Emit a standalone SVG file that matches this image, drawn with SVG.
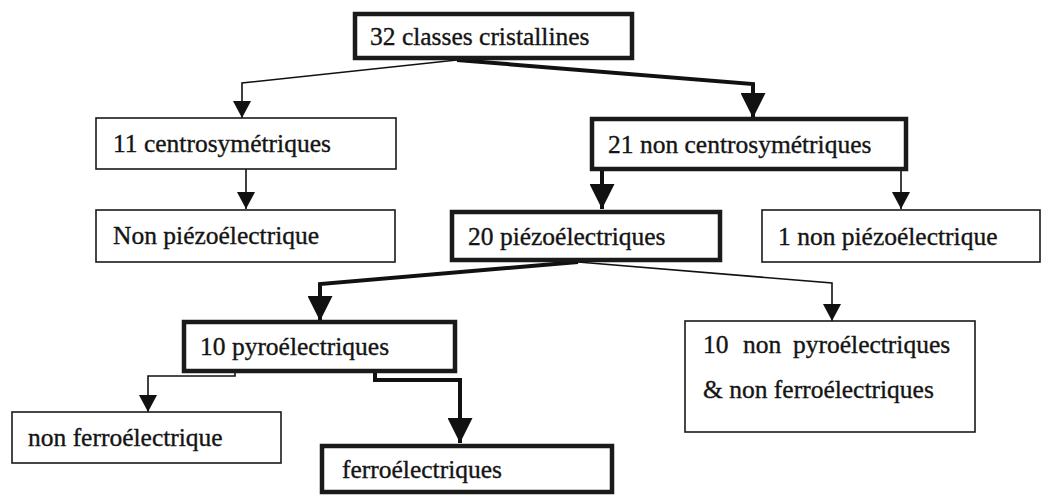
<svg xmlns="http://www.w3.org/2000/svg" width="1042" height="495" viewBox="0 0 1042 495">
<style>
.bg{fill:#ffffff}
.box{fill:#ffffff;stroke:#1a1a1a}
.thin{stroke-width:1.6}
.thick{stroke-width:4.5}
.lbl{font-family:'Liberation Serif','Times New Roman',serif;font-size:25.5px;fill:#141414;stroke:#141414;stroke-width:0.35}
.c{fill:none;stroke:#111;stroke-linejoin:miter}
.cthin{stroke-width:1.6}
.cthick{stroke-width:4}
</style>
<defs>
<marker id="ah-thin" markerUnits="userSpaceOnUse" markerWidth="17" markerHeight="18" refX="17" refY="9" orient="auto" viewBox="0 0 17 18">
<path d="M0,0 L17,9 L0,18 Z" fill="#111"/>
</marker>
<marker id="ah-thick" markerUnits="userSpaceOnUse" markerWidth="25" markerHeight="25" refX="25" refY="12.5" orient="auto" viewBox="0 0 25 25">
<path d="M0,0 L25,12.5 L0,25 Z" fill="#111"/>
</marker>
</defs>
<rect class="bg" x="0" y="0" width="1042" height="495"/>

<g id="connectors">
<polyline class="c cthin" points="457,60 242,83 242,118" marker-end="url(#ah-thin)"/>
<polyline class="c cthick" points="457,60 753,84 753,118" marker-end="url(#ah-thick)"/>
<polyline class="c cthin" points="246,169 246,209" marker-end="url(#ah-thin)"/>
<polyline class="c cthick" points="602,170 602,209" marker-end="url(#ah-thick)"/>
<polyline class="c cthin" points="901,170 901,209" marker-end="url(#ah-thin)"/>
<polyline class="c cthick" points="578,262 320,284 320,321" marker-end="url(#ah-thick)"/>
<polyline class="c cthin" points="578,262 832,283 832,321" marker-end="url(#ah-thin)"/>
<polyline class="c cthin" points="235,372 235,376 148,376 148,412" marker-end="url(#ah-thin)"/>
<polyline class="c cthick" points="375,372 375,380 460,380 460,443" marker-end="url(#ah-thick)"/>
</g>

<g id="n-32">
<rect class="box thick" x="355" y="14" width="277" height="44"/>
<text class="lbl" x="370" y="45">32 classes cristallines</text>
</g>
<g id="n-11">
<rect class="box thin" x="96" y="118" width="300" height="51"/>
<text class="lbl" x="113" y="152">11 centrosymétriques</text>
</g>
<g id="n-21">
<rect class="box thick" x="592" y="119" width="314" height="50"/>
<text class="lbl" x="608" y="153">21 non centrosymétriques</text>
</g>
<g id="n-nonpiezo">
<rect class="box thin" x="96" y="210" width="299" height="52"/>
<text class="lbl" x="113" y="244">Non piézoélectrique</text>
</g>
<g id="n-20">
<rect class="box thick" x="452" y="212" width="268" height="48"/>
<text class="lbl" x="468" y="245">20 piézoélectriques</text>
</g>
<g id="n-1nonpiezo">
<rect class="box thin" x="762" y="210" width="278" height="52"/>
<text class="lbl" x="778" y="245">1 non piézoélectrique</text>
</g>
<g id="n-10pyro">
<rect class="box thick" x="184" y="322" width="271" height="49"/>
<text class="lbl" x="200" y="355">10 pyroélectriques</text>
</g>
<g id="n-10nonpyro">
<rect class="box thin" x="685" y="321" width="290" height="111"/>
<text class="lbl" y="353"><tspan x="703">10</tspan><tspan x="743">non</tspan><tspan x="793">pyroélectriques</tspan></text>
<text class="lbl" x="703" y="398">&amp; non ferroélectriques</text>
</g>
<g id="n-nonferro">
<rect class="box thin" x="12" y="412" width="269" height="51"/>
<text class="lbl" x="28" y="446">non ferroélectrique</text>
</g>
<g id="n-ferro">
<rect class="box thick" x="322" y="446" width="290" height="46"/>
<text class="lbl" x="342" y="478">ferroélectriques</text>
</g>
</svg>
